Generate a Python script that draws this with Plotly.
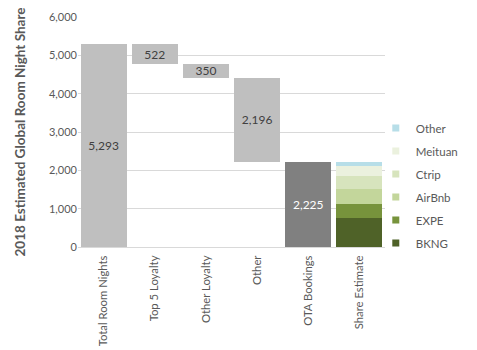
import plotly.graph_objects as go

categories = ["Total Room Nights", "Top 5 Loyalty", "Other Loyalty", "Other", "OTA Bookings", "Share Estimate"]
waterfall_values = [5293, 522, 350, 2196]
ota_value = 2225
share_names = ["BKNG", "EXPE", "AirBnb", "Ctrip", "Meituan", "Other"]
share_values = [760, 350, 395, 350, 270, 100]
share_colors = ["#4F6228", "#77933C", "#C3D69B", "#D7E4BD", "#EBF1DE", "#B7DEE8"]
y_ticks = [0, 1000, 2000, 3000, 4000, 5000, 6000]

font_family = "Lato, 'Open Sans', sans-serif"
text_color = "#595959"

# invisible bases for floating waterfall steps
bases = [0]
running = waterfall_values[0]
for v in waterfall_values[1:]:
    running -= v
    bases.append(running)

fig = go.Figure()
fig.add_trace(go.Bar(
    x=categories[:4], y=bases, marker=dict(color="rgba(0,0,0,0)", line=dict(width=0)),
    showlegend=False, hoverinfo="skip",
))
fig.add_trace(go.Bar(
    x=categories[:4], y=waterfall_values,
    marker=dict(color="#BFBFBF", line=dict(width=0)),
    text=[f"{v:,}" for v in waterfall_values], textposition="inside",
    insidetextanchor="middle", textangle=0,
    textfont=dict(color="#404040", size=12, family=font_family),
    showlegend=False,
))
fig.add_trace(go.Bar(
    x=[categories[4]], y=[ota_value], marker=dict(color="#808080", line=dict(width=0)),
    text=[f"{ota_value:,}"], textposition="inside", insidetextanchor="middle",
    textangle=0, textfont=dict(color="white", size=12, family=font_family),
    showlegend=False,
))
for name, val, col in zip(share_names, share_values, share_colors):
    fig.add_trace(go.Bar(
        x=[categories[5]], y=[val], name=name,
        marker=dict(color=col, line=dict(width=0)),
        showlegend=False,
    ))
# legend entries (small square swatches), top to bottom: Other ... BKNG
for name, col in reversed(list(zip(share_names, share_colors))):
    fig.add_trace(go.Scatter(
        x=[None], y=[None], mode="markers", name=name,
        marker=dict(symbol="square", size=7, color=col),
        legendgroup=name,
    ))

fig.update_layout(
    template="none",
    barmode="stack",
    bargap=0.1,
    width=477, height=350,
    margin=dict(l=78, r=92, t=17, b=103),
    plot_bgcolor="white", paper_bgcolor="white",
    font=dict(family=font_family, color=text_color, size=11),
    uniformtext=dict(minsize=12, mode="show"),
    legend=dict(
        x=0.97, y=0.58, xanchor="left", yanchor="top",
        traceorder="grouped", tracegroupgap=4,
        font=dict(size=11.5, color=text_color),
        itemwidth=30, bgcolor="rgba(0,0,0,0)",
    ),
    yaxis=dict(
        range=[0, 6000], tickvals=y_ticks, tickformat=",",
        gridcolor="#D9D9D9", gridwidth=1, zeroline=False,
        showline=False, ticks="",
        tickfont=dict(size=11, color=text_color),
        title=dict(text="<b>2018 Estimated Global Room Night Share</b>",
                   font=dict(size=13.5, color=text_color), standoff=20),
    ),
    xaxis=dict(
        tickangle=-90, showline=True, linecolor="#D9D9D9",
        ticks="outside", ticklen=3, tickcolor="rgba(0,0,0,0)",
        tickfont=dict(size=11.3, color=text_color),
        showgrid=False,
    ),
)

fig.write_html("out.html")
